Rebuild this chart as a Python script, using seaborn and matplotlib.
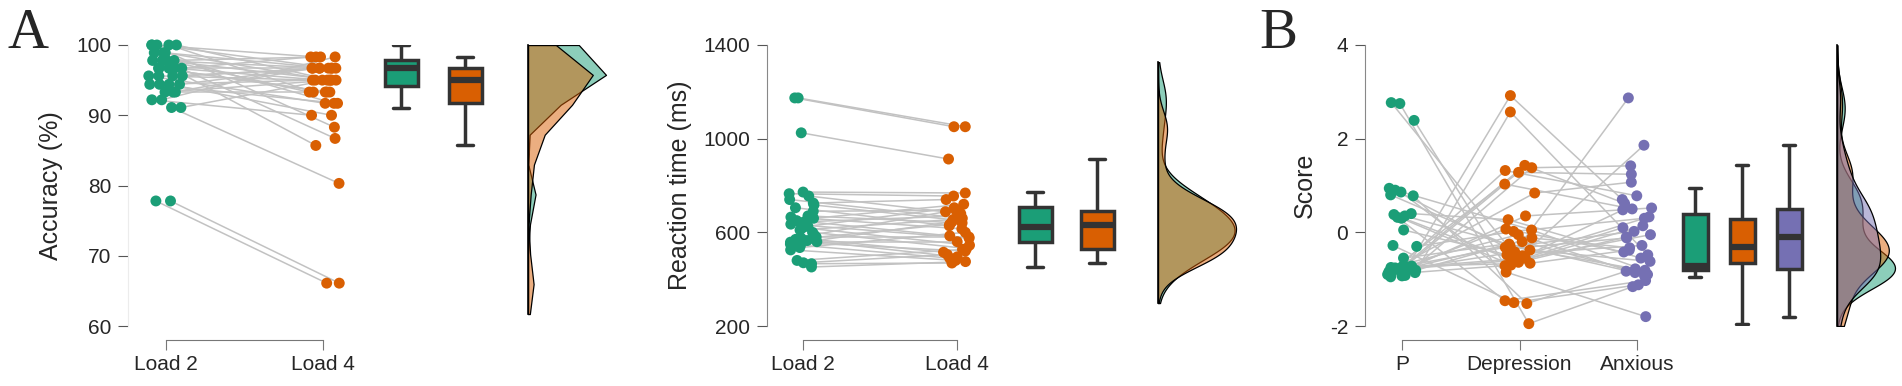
import numpy as np
import pandas as pd
import matplotlib
matplotlib.use('Agg')
import matplotlib.pyplot as plt
import seaborn as sns

sns.set_style('ticks')
plt.rcParams['font.family'] = ['Liberation Sans', 'DejaVu Sans']
plt.rcParams['axes.unicode_minus'] = False

# ---- data (one value per subject, same order in each list) ----
loads = ['Load 2', 'Load 4']
acc_load2 = [100, 100, 100, 100, 100, 98.9, 98.9, 98.9, 97.8, 97.8, 97.8, 97.8,
             97.8, 96.7, 96.7, 96.7, 96.7, 96.7, 95.6, 95.6, 95.6, 95.6, 96.7,
             94.4, 94.4, 94.4, 93.3, 93.3, 94.4, 93.3, 92.2, 92.2, 91.1, 91.1,
             77.8, 77.8]
acc_load4 = [98.3, 96.7, 95.0, 93.3, 88.3, 96.7, 95.0, 91.7, 98.3, 96.7, 95.0,
             93.3, 86.7, 96.7, 95.0, 98.3, 93.3, 85.7, 96.7, 95.0, 91.7, 96.7,
             93.3, 95.0, 96.7, 90.0, 95.0, 93.3, 91.7, 96.7, 98.3, 90.0, 80.3,
             95.0, 66.1, 66.1]

rt_load2 = [452, 466, 470, 480, 525, 535, 545, 550, 558, 560, 565, 570, 575, 580,
            590, 600, 610, 620, 626, 635, 645, 650, 660, 665, 670, 690, 705, 717,
            725, 740, 755, 765, 772, 1025, 1174, 1174]
rt_load4 = [475, 469, 505, 527, 480, 600, 490, 645, 520, 560, 495, 634, 515, 580,
            688, 531, 655, 545, 705, 575, 670, 585, 720, 615, 640, 694, 628, 650,
            740, 660, 680, 755, 768, 913, 1051, 1051]

groups = ['P', 'Depression', 'Anxious']
score_p = [-0.95, -0.93, -0.92, -0.90, -0.88, -0.86, -0.84, -0.82, -0.81, -0.80,
           -0.79, -0.78, -0.77, -0.76, -0.75, -0.74, -0.74, -0.73, -0.72, -0.55,
           -0.30, -0.28, 0.05, 0.30, 0.32, 0.35, 0.38, 0.40, 0.78, 0.80, 0.86,
           0.90, 0.94, 2.39, 2.75, 2.77]
score_dep = [1.43, 2.92, 1.38, -0.70, 1.32, 2.57, -0.42, 1.28, -0.12, 0.35, -0.60,
             1.03, -0.25, 0.84, -0.05, -0.55, 0.07, -0.32, -0.66, -0.20, 0.02,
             -1.50, -0.48, -0.68, -1.46, -0.38, -0.64, 0.27, -1.52, -0.30, -0.85,
             -0.50, 0.05, -0.71, -1.95, -0.35]
score_anx = [0.62, 0.70, 1.42, 1.86, 0.78, -0.48, 2.87, 1.24, -0.33, 0.52, -0.05,
             0.50, -0.86, 1.07, -0.93, 0.10, -0.42, 0.02, -0.38, -0.90, 0.30,
             -1.12, -0.28, 0.14, -1.03, -0.62, -0.10, -0.55, -0.83, -0.78, -1.80,
             0.33, -0.81, 0.48, -1.16, -0.12]

green, orange, purple = '#1b9e77', '#d95f02', '#7570b3'

W, H = 1902, 386
fig = plt.figure(figsize=(W / 100, H / 100), dpi=100)


def px_axes(x0, x1, y0=45, y1=326):
    # axes placed by pixel position (from top-left of the figure)
    ax = fig.add_axes([x0 / W, 1 - y1 / H, (x1 - x0) / W, (y1 - y0) / H])
    ax.set_facecolor('none')
    return ax


def dots_panel(series, names, colors, ylim, yticks, ylabel, spine_px, cat_px,
               right_px, jit, label_px, spine_col, seed):
    n = len(names)
    step = (cat_px[-1] - cat_px[0]) / (n - 1)
    ax = px_axes(spine_px, right_px)
    rng = np.random.default_rng(seed)
    rows = []
    for i, (name, vals) in enumerate(zip(names, series)):
        xs = i + rng.uniform(-jit, jit, len(vals))
        for s, (x, v) in enumerate(zip(xs, vals)):
            rows.append({'subj': s, 'cond': name, 'x': x, 'val': v})
    df = pd.DataFrame(rows)
    sns.lineplot(data=df, x='x', y='val', units='subj', estimator=None, sort=False,
                 color='#c2c2c2', lw=1.1, ax=ax, clip_on=False)
    sns.scatterplot(data=df, x='x', y='val', hue='cond', palette=colors, s=62,
                    edgecolor='none', legend=False, ax=ax, zorder=3, clip_on=False)
    ax.set_xlim((spine_px - cat_px[0]) / step, (right_px - cat_px[0]) / step)
    ax.set_ylim(ylim)
    ax.set_xticks(range(n))
    ax.set_xticklabels(names)
    ax.set_yticks(yticks)
    sns.despine(ax=ax)
    ax.spines['bottom'].set_position(('outward', 10))
    ax.spines['bottom'].set_bounds(0, n - 1)
    ax.spines['bottom'].set_color('#777777')
    ax.spines['left'].set_bounds(*ylim)
    ax.spines['left'].set_color(spine_col)
    ax.tick_params(axis='x', length=7, color='#777777', labelsize=15, pad=4)
    ax.tick_params(axis='y', length=7, color='#555555', labelsize=15, pad=5)
    ax.set_xlabel('')
    ax.set_ylabel(ylabel, fontsize=18)
    ax.yaxis.label.set_va('center')
    ax.yaxis.set_label_coords((label_px - spine_px) / (right_px - spine_px), 0.5)
    return ax


def box_panel(series, names, colors, ylim, centers_px, box_px):
    step = centers_px[1] - centers_px[0]
    x0, x1 = centers_px[0] - 40, centers_px[-1] + 40
    ax = px_axes(x0, x1)
    df = pd.DataFrame({'cond': np.repeat(names, [len(v) for v in series]),
                       'val': np.concatenate(series)})
    sns.boxplot(data=df, x='cond', y='val', hue='cond', palette=colors,
                width=box_px / step, showfliers=False, saturation=1,
                linewidth=2.5, linecolor='#333333', legend=False,
                medianprops={'linewidth': 4.5}, ax=ax)
    ax.set_xlim((x0 - centers_px[0]) / step, (x1 - centers_px[0]) / step)
    ax.set_ylim(ylim)
    ax.axis('off')
    return ax


def kde_panel(series, colors, ylim, base_px, peak_px, clip, gridsize, bw):
    ax = px_axes(base_px, base_px + peak_px + 20)
    for vals, c in zip(series, colors):
        sns.kdeplot(y=vals, fill=True, color=c, alpha=0.5, edgecolor='black',
                    linewidth=0.9, clip=clip, cut=10, gridsize=gridsize,
                    bw_adjust=bw, ax=ax)
    top = ax.dataLim.x1
    ax.set_xlim(0, top * (peak_px + 20) / peak_px)
    ax.set_ylim(ylim)
    sns.despine(ax=ax, bottom=True)
    ax.spines['left'].set_bounds(*clip)
    ax.spines['left'].set_color('black')
    ax.spines['left'].set_linewidth(1.2)
    ax.set_xticks([])
    ax.set_yticks([])
    ax.set_xlabel('')
    ax.set_ylabel('')
    return ax


# ---- panel A: accuracy ----
acc = [acc_load2, acc_load4]
dots_panel(acc, loads, [green, orange], (60, 100), [60, 70, 80, 90, 100],
           'Accuracy (%)', 128, [166, 323], 362, 0.11, 51, '#ececec', 3)
box_panel(acc, loads, [green, orange], (60, 100), [401, 465], 33)
kde_panel(acc, [green, orange], (60, 100), 528, 78, (61.7, 100), 10, 0.8)

# ---- panel A: reaction time ----
rt = [rt_load2, rt_load4]
dots_panel(rt, loads, [green, orange], (200, 1400), [200, 600, 1000, 1400],
           'Reaction time (ms)', 767, [803, 957], 995, 0.09, 680, '#888888', 5)
box_panel(rt, loads, [green, orange], (200, 1400), [1035, 1097], 33)
kde_panel(rt, [green, orange], (200, 1400), 1158, 78, (298, 1327), 200, 1)

# ---- panel B: scores ----
sc = [score_p, score_dep, score_anx]
dots_panel(sc, groups, [green, orange, purple], (-2, 4), [-2, 0, 2, 4],
           'Score', 1365, [1402, 1519, 1637], 1665, 0.13, 1305, '#888888', 11)
box_panel(sc, groups, [green, orange, purple], (-2, 4), [1695, 1742, 1789], 25)
kde_panel(sc, [green, orange, purple], (-2, 4), 1837, 58, (-2, 4), 200, 0.8)

fig.text(7 / W, 1 - 48 / H, 'A', fontsize=41, family='Liberation Serif', va='baseline')
fig.text(1259 / W, 1 - 48 / H, 'B', fontsize=41, family='Liberation Serif', va='baseline')

fig.savefig('out.png', dpi=100)
